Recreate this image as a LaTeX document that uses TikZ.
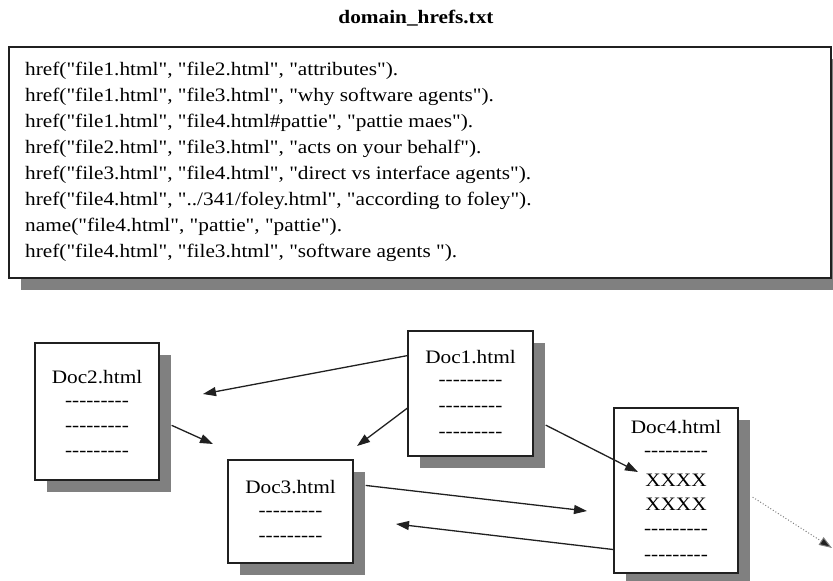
\documentclass[tikz,border=0pt]{standalone}
\usepackage{fontspec}
\newfontfamily\docfont[FakeStretch=1.12,Ligatures=NoCommon]{Liberation Serif}
\usetikzlibrary{arrows.meta,calc,shadows}

\definecolor{shadowgray}{HTML}{808080}
\definecolor{inkgray}{HTML}{202020}

\newcommand\dashrow{-{}-{}-{}-{}-{}-{}-{}-{}-}

\tikzset{
  every node/.style={font=\docfont\fontsize{19pt}{23pt}\selectfont, inner sep=0pt, text=black},
  card/.style={draw=inkgray, line width=1.3pt, fill=white,
    drop shadow={shadow xshift=12pt, shadow yshift=-12pt, fill=shadowgray, opacity=1}},
  codeline/.style={anchor=west},
  link/.style={draw=inkgray, line width=1.3pt, -{Triangle[length=13pt,width=9pt]}},
  weaklink/.style={draw=shadowgray, line width=1pt, dotted, -{Triangle[length=13pt,width=9pt,fill=inkgray]}},
}

\begin{document}
\begin{tikzpicture}[x=1pt,y=-1pt]
\useasboundingbox (0,0) rectangle (833,581);

% file title and the listing of href facts
\node[font=\docfont\bfseries\fontsize{19pt}{23pt}\selectfont] (title) at (416,18) {domain\_hrefs.txt};
\node[card, minimum width=822pt, minimum height=231pt] (listing) at (420,162.5) {};

\node[codeline] (l1) at (25,70.5)  {href("file1.html", "file2.html", "attributes").};
\node[codeline] (l2) at (25,96.5)  {href("file1.html", "file3.html", "why software agents").};
\node[codeline] (l3) at (25,122.5) {href("file1.html", "file4.html\#pattie", "pattie maes").};
\node[codeline] (l4) at (25,148.5) {href("file2.html", "file3.html", "acts on your behalf").};
\node[codeline] (l5) at (25,174.5) {href("file3.html", "file4.html", "direct vs interface agents").};
\node[codeline] (l6) at (25,200.5) {href("file4.html", "../341/foley.html", "according to foley").};
\node[codeline] (l7) at (25,226.5) {name("file4.html", "pattie", "pattie").};
\node[codeline] (l8) at (25,252.5) {href("file4.html", "file3.html", "software agents ").};

% the four documents
\node[card, minimum width=125pt, minimum height=125pt] (doc1) at (470.5,393.5) {};
\node[card, minimum width=124pt, minimum height=137pt] (doc2) at (97,411.5) {};
\node[card, minimum width=125pt, minimum height=103pt] (doc3) at (290.5,511.5) {};
\node[card, minimum width=124pt, minimum height=165pt] (doc4) at (676,490.5) {};

\node (d1t) at (470.5,357) {Doc1.html};
\node (d1a) at (470.5,383) {\dashrow};
\node (d1b) at (470.5,409) {\dashrow};
\node (d1c) at (470.5,435) {\dashrow};

\node (d2t) at (97,377) {Doc2.html};
\node (d2a) at (97,404) {\dashrow};
\node (d2b) at (97,429) {\dashrow};
\node (d2c) at (97,454) {\dashrow};

\node (d3t) at (290.5,487) {Doc3.html};
\node (d3a) at (290.5,514) {\dashrow};
\node (d3b) at (290.5,539) {\dashrow};

\node (d4t) at (676,427) {Doc4.html};
\node (d4a) at (676,454) {\dashrow};
\node (d4x) at (676,480) {XXXX};
\node (d4y) at (676,504) {XXXX};
\node (d4b) at (676,532) {\dashrow};
\node (d4c) at (676,558) {\dashrow};

% loose ends of the links
\coordinate (tip12) at (203,394);
\coordinate (tip13) at (357,446);
\coordinate (tip14) at (638,472);
\coordinate (tip23) at (213,444);
\coordinate (tip34) at (587,511);
\coordinate (tip43) at (396,524);
\coordinate (tipout) at (832,548);

% links between the documents
\draw[link] ($(doc1.north west)!0.2!(doc1.south west)$) -- (tip12);
\draw[link] ($(doc1.north west)!0.616!(doc1.south west)$) -- (tip13);
\draw[link] ($(doc1.north east)!0.75!(doc1.south east)+(12,0)$) -- (tip14);
\draw[link] ($(doc2.north east)!0.6!(doc2.south east)+(12,0)$) -- (tip23);
\draw[link] ($(doc3.north east)!0.25!(doc3.south east)+(12,0)$) -- (tip34);
\draw[link] ($(doc4.north west)!0.855!(doc4.south west)$) -- (tip43);
\draw[weaklink] ($(doc4.north east)!0.54!(doc4.south east)+(14,0)$) -- (tipout);
\end{tikzpicture}
\end{document}
